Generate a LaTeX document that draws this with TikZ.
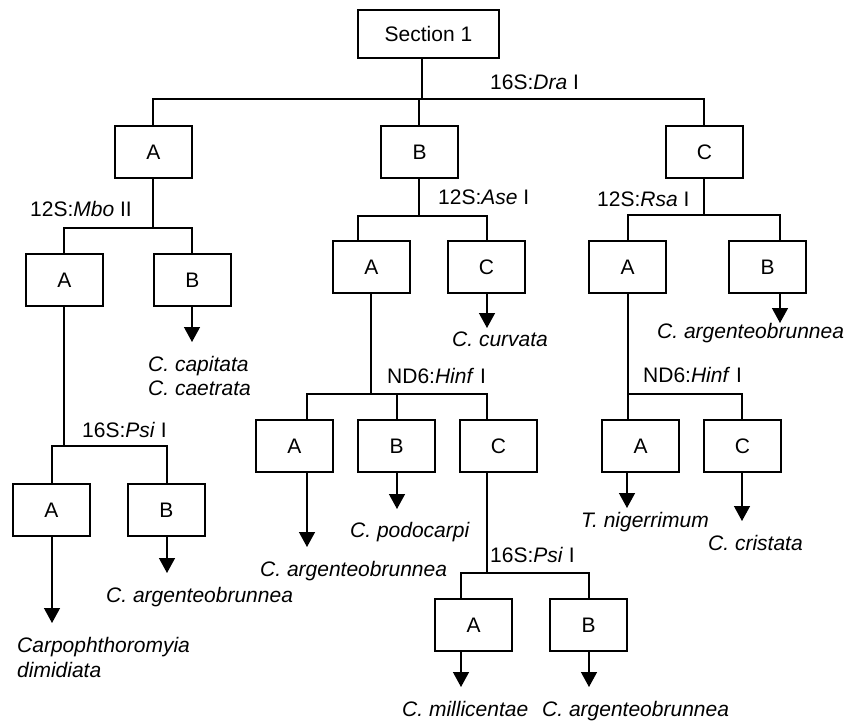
\documentclass[tikz,border=0pt]{standalone}
\usepackage{fontspec}
\setmainfont{Liberation Sans}
\usetikzlibrary{arrows.meta}
\begin{document}
\begin{tikzpicture}[x=1pt,y=-1pt,
  every node/.style={font=\fontsize{21}{24}\selectfont},
  box/.style={draw, line width=1.7pt, minimum width=77pt, minimum height=52pt, inner sep=0pt},
  ln/.style={line width=1.4pt},
  arr/.style={line width=1.4pt, -{Triangle[length=15pt,width=16pt]}},
  lab/.style={anchor=base west, inner sep=0pt},
  leaf/.style={anchor=base west, inner sep=0pt, font=\fontsize{21}{24}\selectfont\itshape}]
\useasboundingbox (0,0) rectangle (849,722);

% ---------- boxes ----------
\node[box, minimum width=141pt, minimum height=48pt] (root) at (428.5,34) {Section 1};
\node[box] (A1) at (153.5,152) {A};
\node[box] (B1) at (419.5,152) {B};
\node[box] (C1) at (704.5,152) {C};

\node[box] (A2L) at (64.5,280) {A};
\node[box] (B2L) at (192.5,280) {B};
\node[box] (A3L) at (51.5,510) {A};
\node[box] (B3L) at (166.5,510) {B};

\node[box] (A2M) at (371.5,267) {A};
\node[box] (C2M) at (486.5,267) {C};
\node[box] (A3M) at (294.5,446) {A};
\node[box] (B3M) at (396.5,446) {B};
\node[box] (C3M) at (498.5,446) {C};
\node[box] (A4) at (473.5,625) {A};
\node[box] (B4) at (588.5,625) {B};

\node[box] (A2R) at (627.5,267) {A};
\node[box] (B2R) at (767.5,267) {B};
\node[box] (A3R) at (640.5,446) {A};
\node[box] (C3R) at (742.5,446) {C};

% ---------- junction coordinates ----------
\coordinate (j0) at (422,99);
\coordinate (b0l) at (153,99);
\coordinate (b0m) at (419,99);
\coordinate (b0r) at (704,99);

\coordinate (jA1) at (153,228);
\coordinate (bA1l) at (64,228);
\coordinate (bA1r) at (192,228);

\coordinate (jA2L) at (64,446);
\coordinate (bA2Ll) at (52,446);
\coordinate (bA2Lr) at (167,446);

\coordinate (jB1) at (419,216);
\coordinate (bB1l) at (358,216);
\coordinate (bB1r) at (487,216);

\coordinate (jA2M) at (371,394);
\coordinate (bA2Ml) at (307,394);
\coordinate (bA2Mm) at (397,394);
\coordinate (bA2Mr) at (487,394);

\coordinate (jC3M) at (487,573);
\coordinate (bC3Ml) at (461,573);
\coordinate (bC3Mr) at (589,573);

\coordinate (jC1) at (704,215);
\coordinate (bC1l) at (628,215);
\coordinate (bC1r) at (780,215);

\coordinate (jA2R) at (628,394);
\coordinate (bA2Rl) at (628,394);
\coordinate (bA2Rr) at (742,394);

% ---------- tree lines ----------
\draw[ln] (root.south -| j0) -- (j0);
\draw[ln] (A1.north -| b0l) -- (b0l) -- (b0r) -- (C1.north -| b0r);
\draw[ln] (B1.north -| b0m) -- (b0m);

\draw[ln] (A1.south -| jA1) -- (jA1);
\draw[ln] (A2L.north -| bA1l) -- (bA1l) -- (bA1r) -- (B2L.north -| bA1r);
\draw[ln] (A2L.south -| jA2L) -- (jA2L);
\draw[ln] (A3L.north -| bA2Ll) -- (bA2Ll) -- (bA2Lr) -- (B3L.north -| bA2Lr);

\draw[ln] (B1.south -| jB1) -- (jB1);
\draw[ln] (A2M.north -| bB1l) -- (bB1l) -- (bB1r) -- (C2M.north -| bB1r);
\draw[ln] (A2M.south -| jA2M) -- (jA2M);
\draw[ln] (A3M.north -| bA2Ml) -- (bA2Ml) -- (bA2Mr) -- (C3M.north -| bA2Mr);
\draw[ln] (B3M.north -| bA2Mm) -- (bA2Mm);
\draw[ln] (C3M.south -| jC3M) -- (jC3M);
\draw[ln] (A4.north -| bC3Ml) -- (bC3Ml) -- (bC3Mr) -- (B4.north -| bC3Mr);

\draw[ln] (C1.south -| jC1) -- (jC1);
\draw[ln] (A2R.north -| bC1l) -- (bC1l) -- (bC1r) -- (B2R.north -| bC1r);
\draw[ln] (A2R.south -| jA2R) -- (jA2R);
\draw[ln] (A3R.north -| bA2Rl) -- (bA2Rl) -- (bA2Rr) -- (C3R.north -| bA2Rr);

% ---------- enzyme labels ----------
\node[lab] (l0) at (490,90) {16S:\textit{Dra} I};
\node[lab] (lA1) at (30,217) {12S:\textit{Mbo} II};
\node[lab] (lA2L) at (82,437) {16S:\textit{Psi} I};
\node[lab] (lB1) at (438,205) {12S:\textit{Ase} I};
\node[lab] (lA2M) at (387,383) {ND6:\textit{Hinf} I};
\node[lab] (lC3M) at (490,562) {16S:\textit{Psi} I};
\node[lab] (lC1) at (597,207) {12S:\textit{Rsa} I};
\node[lab] (lA2R) at (643,382) {ND6:\textit{Hinf} I};

% ---------- arrow tips ----------
\coordinate (tB2L) at (192,342);
\coordinate (tA3L) at (52,623);
\coordinate (tB3L) at (167,573);
\coordinate (tC2M) at (487,328);
\coordinate (tA3M) at (307,547);
\coordinate (tB3M) at (397,509);
\coordinate (tA4) at (461,687);
\coordinate (tB4) at (589,687);
\coordinate (tB2R) at (780,323);
\coordinate (tA3R) at (627,508);
\coordinate (tC3R) at (742,521);

\draw[arr] (B2L.south -| tB2L) -- (tB2L);
\draw[arr] (A3L.south -| tA3L) -- (tA3L);
\draw[arr] (B3L.south -| tB3L) -- (tB3L);
\draw[arr] (C2M.south -| tC2M) -- (tC2M);
\draw[arr] (A3M.south -| tA3M) -- (tA3M);
\draw[arr] (B3M.south -| tB3M) -- (tB3M);
\draw[arr] (A4.south -| tA4) -- (tA4);
\draw[arr] (B4.south -| tB4) -- (tB4);
\draw[arr] (B2R.south -| tB2R) -- (tB2R);
\draw[arr] (A3R.south -| tA3R) -- (tA3R);
\draw[arr] (C3R.south -| tC3R) -- (tC3R);

% ---------- leaf labels ----------
\node[leaf] (s1) at (148,371) {C. capitata};
\node[leaf] (s2) at (148,395) {C. caetrata};
\node[leaf] (s3) at (17,652) {Carpophthoromyia};
\node[leaf] (s4) at (17,677) {dimidiata};
\node[leaf] (s5) at (106,602) {C. argenteobrunnea};
\node[leaf] (s6) at (452,346) {C. curvata};
\node[leaf] (s7) at (260,576) {C. argenteobrunnea};
\node[leaf] (s8) at (350,537) {C. podocarpi};
\node[leaf] (s9) at (402,716) {C. millicentae};
\node[leaf] (s10) at (542,716) {C. argenteobrunnea};
\node[leaf] (s11) at (657,338) {C. argenteobrunnea};
\node[leaf] (s12) at (581,527) {T. nigerrimum};
\node[leaf] (s13) at (708,550) {C. cristata};
\end{tikzpicture}
\end{document}
